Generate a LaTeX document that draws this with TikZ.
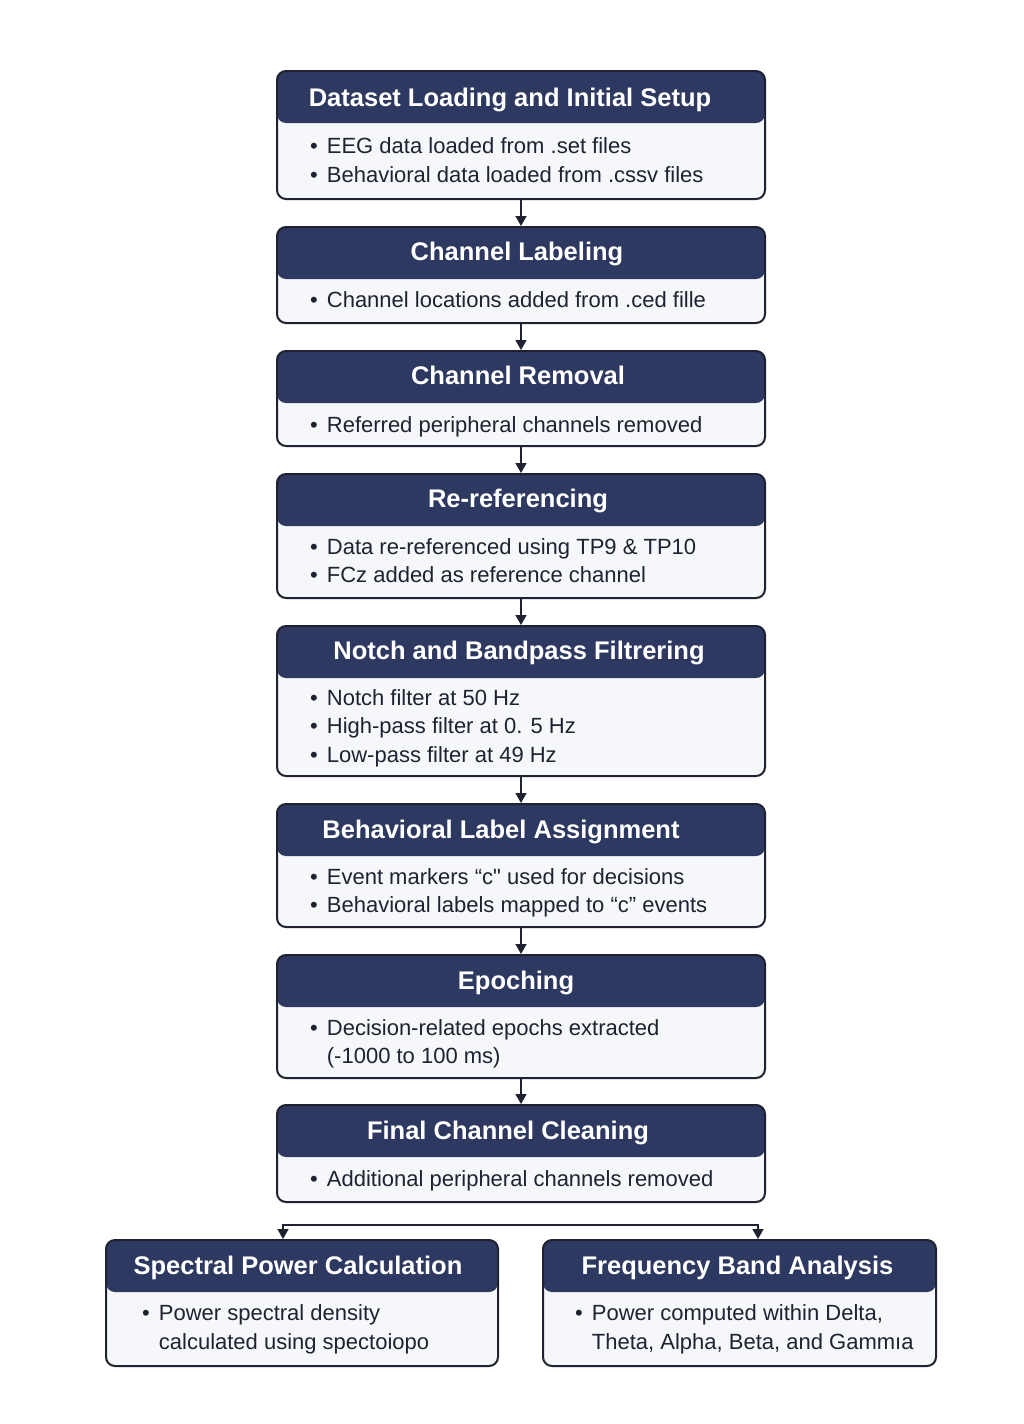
\documentclass[tikz,border=0pt]{standalone}
\usepackage{fontspec}
\setmainfont{Liberation Sans}[Ligatures=TeXOff]
\usepackage{xcolor}
\usetikzlibrary{arrows.meta}

\definecolor{navy}{HTML}{2E3961}
\definecolor{paper}{HTML}{F6F7FA}
\definecolor{ink}{HTML}{1F2230}

\tikzset{
  stage/.style={draw=ink, line width=2pt, rounded corners=9pt, fill=paper, inner sep=0pt,
    minimum width=488pt,
    path picture={\fill[navy] (path picture bounding box.north west)
      rectangle ([yshift=-52pt]path picture bounding box.north east);}},
  headline/.style={anchor=base, inner sep=0pt, text=white,
    font=\fontsize{25.5}{30}\selectfont\bfseries},
  bullets/.style={anchor=base west, align=left, inner sep=0pt, text=ink,
    font=\fontsize{22}{28.5}\selectfont},
  flow/.style={draw=ink, line width=1.6pt, -{Triangle[width=11pt,length=10pt]}},
  split/.style={draw=ink, line width=1.6pt,
    {Triangle[width=11pt,length=10pt]}-{Triangle[width=11pt,length=10pt]}},
}

\begin{document}
\begin{tikzpicture}[x=1pt, y=-1pt]
        \useasboundingbox[fill=white] (0,0) rectangle (1024,1424);

        % base anchor of a multi-line node sits on its last line
        \node[stage, minimum height=128pt] (load) at (521,135) {};
        \node[headline] (loadtitle) at ([xshift=-11pt, yshift=-36pt]load.north) {Dataset Loading and Initial Setup};
        \node[bullets] (loadtext) at ([xshift=34pt, yshift=-112pt]load.north west) {\textbullet\hspace{9pt}EEG data loaded from .set files\\
          \textbullet\hspace{9pt}Behavioral data loaded from .cssv files};

        \node[stage, minimum height=96pt] (label) at (521,275) {};
        \node[headline] (labeltitle) at ([xshift=-4pt, yshift=-34pt]label.north) {Channel Labeling};
        \node[bullets] (labeltext) at ([xshift=34pt, yshift=-81pt]label.north west) {\textbullet\hspace{9pt}Channel locations added from .ced fille};

        \node[stage, minimum height=95pt] (removal) at (521,398.5) {};
        \node[headline] (removaltitle) at ([xshift=-3pt, yshift=-34pt]removal.north) {Channel Removal};
        \node[bullets] (removaltext) at ([xshift=34pt, yshift=-82pt]removal.north west) {\textbullet\hspace{9pt}Referred peripheral channels removed};

        \node[stage, minimum height=124pt] (reref) at (521,536) {};
        \node[headline] (rereftitle) at ([xshift=-3pt, yshift=-34pt]reref.north) {Re-referencing};
        \node[bullets] (rereftext) at ([xshift=34pt, yshift=-109.5pt]reref.north west) {\textbullet\hspace{9pt}Data re-referenced using TP9 \& TP10\\
          \textbullet\hspace{9pt}FCz added as reference channel};

        \node[stage, minimum height=150pt] (filter) at (521,701) {};
        \node[headline] (filtertitle) at ([xshift=-2pt, yshift=-34pt]filter.north) {Notch and Bandpass Filtrering};
        \node[bullets] (filtertext) at ([xshift=34pt, yshift=-137pt]filter.north west) {\textbullet\hspace{9pt}Notch filter at 50 Hz\\
          \textbullet\hspace{9pt}High-pass filter at 0. 5 Hz\\
          \textbullet\hspace{9pt}Low-pass filter at 49 Hz};

        \node[stage, minimum height=123pt] (assign) at (521,865.5) {};
        \node[headline] (assigntitle) at ([xshift=-20pt, yshift=-35pt]assign.north) {Behavioral Label Assignment};
        \node[bullets] (assigntext) at ([xshift=34pt, yshift=-109.5pt]assign.north west) {\textbullet\hspace{9pt}Event markers “c" used for decisions\\
          \textbullet\hspace{9pt}Behavioral labels mapped to “c” events};

        \node[stage, minimum height=123pt] (epoch) at (521,1016.5) {};
        \node[headline] (epochtitle) at ([xshift=-5pt, yshift=-35pt]epoch.north) {Epoching};
        \node[bullets] (epochtext) at ([xshift=34pt, yshift=-109.5pt]epoch.north west) {\textbullet\hspace{9pt}Decision-related epochs extracted\\
          \phantom{\textbullet}\hspace{9pt}(-1000 to 100 ms)};

        \node[stage, minimum height=97pt] (clean) at (521,1153.5) {};
        \node[headline] (cleantitle) at ([xshift=-13pt, yshift=-35pt]clean.north) {Final Channel Cleaning};
        \node[bullets] (cleantext) at ([xshift=34pt, yshift=-82pt]clean.north west) {\textbullet\hspace{9pt}Additional peripheral channels removed};

        \node[stage, minimum width=392pt, minimum height=126pt] (spec) at (302,1303) {};
        \node[headline] (spectitle) at ([xshift=-4pt, yshift=-35pt]spec.north) {Spectral Power Calculation};
        \node[bullets] (spectext) at ([xshift=37pt, yshift=-110pt]spec.north west) {\textbullet\hspace{9pt}Power spectral density\\
          \phantom{\textbullet}\hspace{9pt}calculated using spectoiopo};

        \node[stage, minimum width=393pt, minimum height=126pt] (freq) at (739.5,1303) {};
        \node[headline] (freqtitle) at ([xshift=-2pt, yshift=-35pt]freq.north) {Frequency Band Analysis};
        \node[bullets] (freqtext) at ([xshift=33pt, yshift=-110pt]freq.north west) {\textbullet\hspace{9pt}Power computed within Delta,\\
          \phantom{\textbullet}\hspace{9pt}Theta, Alpha, Beta, and Gammıa};

        \draw[flow] (load) -- (label);
        \draw[flow] (label) -- (removal);
        \draw[flow] (removal) -- (reref);
        \draw[flow] (reref) -- (filter);
        \draw[flow] (filter) -- (assign);
        \draw[flow] (assign) -- (epoch);
        \draw[flow] (epoch) -- (clean);

        \coordinate (fork) at (283,1225);
        \coordinate (join) at (758,1225);
        \draw[split] (fork |- spec.north) -- (fork) -- (join) -- (join |- freq.north);
    \end{tikzpicture}
\end{document}
